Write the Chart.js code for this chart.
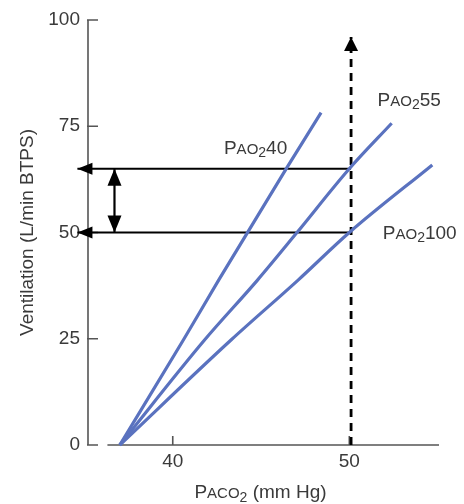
<!DOCTYPE html>
<html>
<head>
<meta charset="utf-8">
<script src="https://cdn.jsdelivr.net/npm/chart.js@4.4.0/dist/chart.umd.min.js"></script>
<style>
  html, body { margin: 0; padding: 0; background: #fff; }
</style>
</head>
<body>
<canvas id="myChart" width="464" height="504"></canvas>
<script>
// PaCO2 (mm Hg) vs ventilation (L/min)
const paco2Pao2_40 = [37, 40.6, 42.6, 46.5, 48.4];
const ventPao2_40 = [0, 24.7, 38.8, 65.5, 78.2];
const paco2Pao2_55 = [37, 41.8, 44.8, 47.0, 50, 52.4];
const ventPao2_55 = [0, 24.7, 38.8, 49.8, 65, 75.7];
const paco2Pao2_100 = [37, 43.3, 47.1, 50, 54.7];
const ventPao2_100 = [0, 24.7, 38.8, 50, 65.9];
const pao2Levels = ['40', '55', '100'];

// dashed marker at PaCO2 50 and the two ventilations it reads off
const markerPaco2 = 50.1;
const markerTop = 96;
const readVent = [65, 50];
const readArrowEnd = 34.6;
const diffArrowPaco2 = 36.7;

const xTicks = [40, 50];
const yTicks = [0, 25, 50, 75, 100];

// where the curve names sit (data units, left edge / baseline)
const labelAt = [{x: 42.9, y: 68.5}, {x: 51.6, y: 79.8}, {x: 51.9, y: 48.5}];

const FONT = '"Liberation Sans", Arial, Helvetica, sans-serif';
const TEXT = '#3a3a3a';
const BLUE = '#5a72bf';

const toPts = (xs, ys) => xs.map((x, i) => ({x: x, y: ys[i]}));

const curve = (xs, ys) => ({
  data: toPts(xs, ys),
  borderColor: BLUE,
  borderWidth: 3.2,
  pointRadius: 0,
  cubicInterpolationMode: 'monotone',
  fill: false,
  clip: false
});

const arrow = (pts, opts) => Object.assign({
  data: pts,
  borderColor: '#000',
  borderWidth: 2.2,
  pointRadius: 0,
  fill: false,
  clip: false
}, opts);

// draws "P" + small caps + subscript 2 + rest
function drawRuns(ctx, runs, x, base) {
  ctx.save();
  ctx.fillStyle = TEXT;
  ctx.textBaseline = 'alphabetic';
  ctx.textAlign = 'left';
  let cx = x;
  runs.forEach(r => {
    ctx.font = r.size + 'px ' + FONT;
    ctx.fillText(r.t, cx, base + (r.dy || 0));
    cx += ctx.measureText(r.t).width;
  });
  ctx.restore();
}
function runsWidth(ctx, runs) {
  let w = 0;
  ctx.save();
  runs.forEach(r => { ctx.font = r.size + 'px ' + FONT; w += ctx.measureText(r.t).width; });
  ctx.restore();
  return w;
}
const pao2Runs = (v) => [
  {t: 'P', size: 19}, {t: 'AO', size: 15}, {t: '2', size: 14, dy: 3.5}, {t: v, size: 19}
];

const axesPlugin = {
  id: 'axes',
  beforeDatasetsDraw(chart) {
    const {ctx, scales: {x, y}} = chart;
    const x0 = x.getPixelForValue(x.min);
    const y0 = y.getPixelForValue(0);
    ctx.save();
    ctx.strokeStyle = '#555';
    ctx.lineWidth = 1.6;
    ctx.beginPath();
    ctx.moveTo(x0, y.getPixelForValue(100));
    ctx.lineTo(x0, y0);
    yTicks.forEach(v => {
      const p = y.getPixelForValue(v);
      ctx.moveTo(x0 - 1, p);
      ctx.lineTo(x0 + 10, p);
    });
    ctx.moveTo(x.getPixelForValue(36.3), y0);
    ctx.lineTo(x.getPixelForValue(x.max), y0);
    xTicks.forEach(v => {
      const p = x.getPixelForValue(v);
      ctx.moveTo(p, y0);
      ctx.lineTo(p, y0 - 9);
    });
    ctx.stroke();
    ctx.restore();
  },
  afterDatasetsDraw(chart) {
    const {ctx} = chart;
    // arrow heads
    chart.data.datasets.forEach((ds, i) => {
      if (!ds.heads) return;
      const pts = chart.getDatasetMeta(i).data;
      const ends = [];
      if (ds.heads.end) ends.push([pts[pts.length - 1], pts[pts.length - 2]]);
      if (ds.heads.start) ends.push([pts[0], pts[1]]);
      ends.forEach(([tip, from]) => {
        const a = Math.atan2(tip.y - from.y, tip.x - from.x);
        const L = ds.heads.len, H = ds.heads.half;
        ctx.save();
        ctx.fillStyle = '#000';
        ctx.translate(tip.x, tip.y);
        ctx.rotate(a);
        ctx.beginPath();
        ctx.moveTo(0, 0);
        ctx.lineTo(-L, -H);
        ctx.lineTo(-L, H);
        ctx.closePath();
        ctx.fill();
        ctx.restore();
      });
    });
    // curve names
    const {x, y} = chart.scales;
    pao2Levels.forEach((lv, i) => {
      drawRuns(ctx, pao2Runs(lv), x.getPixelForValue(labelAt[i].x), y.getPixelForValue(labelAt[i].y));
    });
    // x axis title
    const titleRuns = [
      {t: 'P', size: 19}, {t: 'ACO', size: 15}, {t: '2', size: 14, dy: 4}, {t: ' (mm Hg)', size: 19}
    ];
    const w = runsWidth(ctx, titleRuns);
    const cx = (chart.chartArea.left + chart.chartArea.right) / 2 - 3;
    drawRuns(ctx, titleRuns, cx - w / 2, chart.height - 6);
  }
};

const ctx = document.getElementById('myChart').getContext('2d');
new Chart(ctx, {
  type: 'line',
  data: {
    datasets: [
      curve(paco2Pao2_40, ventPao2_40),
      curve(paco2Pao2_55, ventPao2_55),
      curve(paco2Pao2_100, ventPao2_100),
      arrow([{x: markerPaco2, y: 0}, {x: markerPaco2, y: markerTop}],
        {borderDash: [8, 6], borderWidth: 2.8, heads: {end: true, len: 14, half: 7}}),
      arrow([{x: markerPaco2, y: readVent[0]}, {x: readArrowEnd, y: readVent[0]}],
        {heads: {end: true, len: 15, half: 6}}),
      arrow([{x: markerPaco2, y: readVent[1]}, {x: readArrowEnd, y: readVent[1]}],
        {heads: {end: true, len: 15, half: 6}}),
      arrow([{x: diffArrowPaco2, y: readVent[0]}, {x: diffArrowPaco2, y: readVent[1]}],
        {heads: {end: true, start: true, len: 17, half: 7}})
    ]
  },
  options: {
    responsive: false,
    animation: false,
    layout: { padding: {top: 20, right: 25, left: 0, bottom: 0} },
    plugins: { legend: {display: false}, tooltip: {enabled: false} },
    scales: {
      x: {
        type: 'linear',
        min: 35.2,
        max: 55.08,
        grid: {display: false, drawTicks: false},
        border: {display: false},
        afterBuildTicks: (s) => { s.ticks = xTicks.map(v => ({value: v})); },
        afterFit: (s) => { s.height = 59; },
        ticks: {color: TEXT, padding: 5, font: {family: FONT, size: 19}}
      },
      y: {
        min: 0,
        max: 100,
        grid: {display: false, drawTicks: false},
        border: {display: false},
        afterBuildTicks: (s) => { s.ticks = yTicks.map(v => ({value: v})); },
        afterFit: (s) => { s.width = 88; },
        ticks: {color: TEXT, padding: 8, font: {family: FONT, size: 19}},
        title: {
          display: true,
          text: 'Ventilation (L/min BTPS)',
          color: TEXT,
          padding: {top: 16, bottom: 0},
          font: {family: FONT, size: 19}
        }
      }
    }
  },
  plugins: [axesPlugin]
});
</script>
</body>
</html>
